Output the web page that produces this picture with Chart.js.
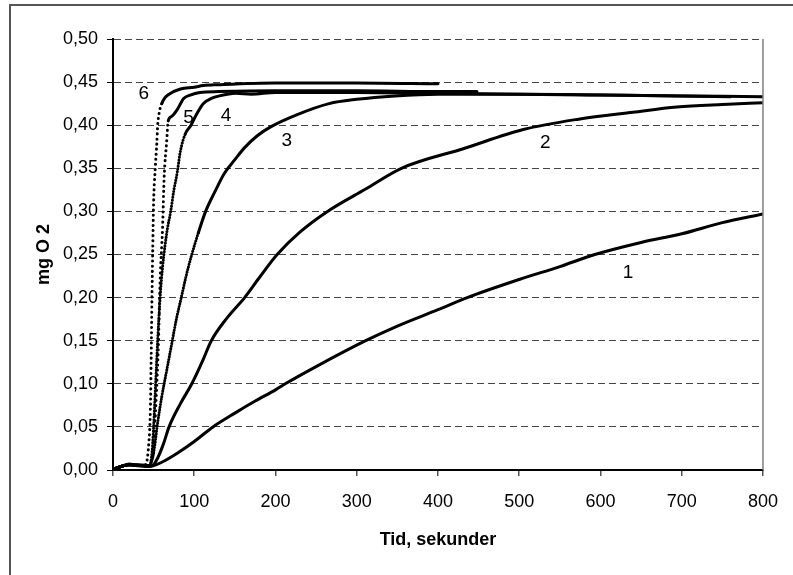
<!DOCTYPE html>
<html>
<head>
<meta charset="utf-8">
<script src="https://cdn.jsdelivr.net/npm/chart.js@4.4.1/dist/chart.umd.min.js"></script>
<style>
    body { margin:0; background:#fff; overflow:hidden; }
    #wrap { position:relative; width:793px; height:575px; overflow:hidden; }
    #frame { position:absolute; left:9px; top:4px; width:820px; height:620px; border:2px solid #555; }
    #chart { position:absolute; left:0; top:0; }
</style>
</head>
<body>
<div id="wrap">
    <div id="frame"></div>
    <canvas id="chart" width="793" height="575"></canvas>
</div>
<script>
// curves (time in s, mg O2)
const t1 = [0,20,45,60,80,100,123,150,175,200,212,250,311,350,400,436,500,550,593,650,700,750,800];
const v1 = [0.001,0.006,0.004,0.009,0.02,0.033,0.05,0.066,0.08,0.093,0.10,0.12,0.15,0.167,0.186,0.20,0.221,0.236,0.25,0.264,0.274,0.287,0.297];

const t2 = [0,20,48,55,62,69,83,97,110,121,140,162,180,202,230,264,311,355,432,505,573,640,694,750,800];
const v2 = [0.001,0.006,0.005,0.014,0.03,0.05,0.077,0.10,0.126,0.15,0.176,0.20,0.223,0.25,0.276,0.30,0.326,0.35,0.373,0.395,0.407,0.415,0.421,0.424,0.426];

const t3 = [0,20,45,50,55,60,66,72,78,84,90,97,105,114,125,137,150,162,178,194,226,266,300,347,400,500,600,700,800];
const v3 = [0.001,0.006,0.005,0.02,0.055,0.085,0.115,0.145,0.175,0.20,0.225,0.25,0.275,0.30,0.322,0.344,0.36,0.374,0.388,0.398,0.412,0.425,0.43,0.434,0.436,0.436,0.435,0.434,0.433];

const t4 = [0,20,45,48,50,52,55,58,61,64,67,71,75,79,83,89,96,103,111,121,131,151,170,200,300,400,500,600,700,760];
const v4 = [0.001,0.006,0.005,0.02,0.05,0.09,0.15,0.20,0.235,0.26,0.28,0.30,0.325,0.345,0.37,0.39,0.40,0.413,0.425,0.431,0.434,0.437,0.436,0.438,0.438,0.437,0.436,0.435,0.434,0.433];

const t5 = [0,20,44,50,53,56,58,61,63,66,68,72,79,87,95,107,130,200,300,400,448];
const v5 = [0.001,0.006,0.005,0.03,0.08,0.15,0.22,0.28,0.34,0.38,0.405,0.41,0.418,0.431,0.435,0.438,0.439,0.440,0.440,0.439,0.439];

const t6 = [0,10,20,30,40,44,46,47,48,49,50,52,54,55,57,60,64,69,83,100,111,130,200,300,400];
const v6 = [0.001,0.004,0.007,0.005,0.006,0.03,0.07,0.13,0.20,0.26,0.31,0.35,0.38,0.40,0.415,0.425,0.432,0.436,0.442,0.444,0.446,0.447,0.449,0.449,0.448];

// curve number labels, placed in data units
const labelText = ['1','2','3','4','5','6'];
const labelT    = [634, 532, 214, 139, 93, 38];
const labelV    = [0.229, 0.380, 0.382, 0.411, 0.409, 0.437];

const xTicks = [0,100,200,300,400,500,600,700,800];

const FONT = "'Liberation Sans', Arial, sans-serif";

function pts(ts, vs) { return ts.map((t, i) => ({ x: t, y: vs[i] })); }

// steep parts of the fast curves were sampled sparsely -> show as dots
function dotted(gap) {
    return {
        borderDash: ctx => {
            const dx = ctx.p1.x - ctx.p0.x, dy = ctx.p1.y - ctx.p0.y;
            return Math.abs(dy) > 3.2 * Math.abs(dx) ? [0.1, gap] : undefined;
        }
    };
}

function ds(ts, vs, seg) {
    return {
        data: pts(ts, vs),
        borderColor: '#000',
        borderWidth: 3,
        borderCapStyle: 'round',
        pointRadius: 0,
        cubicInterpolationMode: 'monotone',
        segment: seg || {}
    };
}

const overlay = {
    id: 'overlay',
    afterDraw(chart) {
        const c = chart.ctx, a = chart.chartArea, x = chart.scales.x, y = chart.scales.y;
        c.save();
        // right frame of plot area
        c.strokeStyle = '#808080';
        c.lineWidth = 1.5;
        c.beginPath(); c.moveTo(a.right, a.top); c.lineTo(a.right, a.bottom); c.stroke();
        // curve labels
        c.fillStyle = '#000';
        c.font = '19px ' + FONT;
        c.textAlign = 'center'; c.textBaseline = 'middle';
        labelText.forEach((s, i) => c.fillText(s, x.getPixelForValue(labelT[i]), y.getPixelForValue(labelV[i])));
        // axis titles
        c.font = 'bold 18px ' + FONT;
        c.fillText('Tid, sekunder', (a.left + a.right) / 2, 540);
        c.translate(44, (a.top + a.bottom) / 2);
        c.rotate(-Math.PI / 2);
        c.fillText('mg O 2', 0, 0);
        c.restore();
    }
};

new Chart(document.getElementById('chart'), {
    type: 'line',
    data: {
        datasets: [
            ds(t1, v1),
            ds(t2, v2),
            ds(t3, v3, dotted(2.6)),
            ds(t4, v4, dotted(2.8)),
            ds(t5, v5, dotted(5)),
            ds(t6, v6, dotted(5))
        ]
    },
    options: {
        responsive: false,
        animation: false,
        devicePixelRatio: 1,
        layout: { padding: { top: 39, right: 19, left: 0, bottom: 0 } },
        plugins: { legend: { display: false }, tooltip: { enabled: false } },
        scales: {
            x: {
                type: 'linear', min: 0, max: 800,
                afterBuildTicks: s => { s.ticks = xTicks.map(v => ({ value: v })); },
                afterFit: s => { s.height = 105; },
                ticks: { color: '#000', font: { family: FONT, size: 18 }, padding: 15, maxRotation: 0 },
                grid: { drawOnChartArea: false, drawTicks: true, tickLength: 6, color: '#555', lineWidth: 1.5 },
                border: { color: '#000', width: 2 }
            },
            y: {
                min: 0, max: 0.5,
                ticks: { stepSize: 0.05, color: '#000', font: { family: FONT, size: 18 }, padding: 9,
                    callback: v => v.toFixed(2).replace('.', ',') },
                afterFit: s => { s.width = 113; },
                grid: { color: '#444', lineWidth: 1, tickLength: 6, tickColor: '#000', tickBorderDash: [] },
                border: { color: '#000', width: 2, dash: [7, 4] }
            }
        }
    },
    plugins: [overlay]
});
</script>
</body>
</html>
